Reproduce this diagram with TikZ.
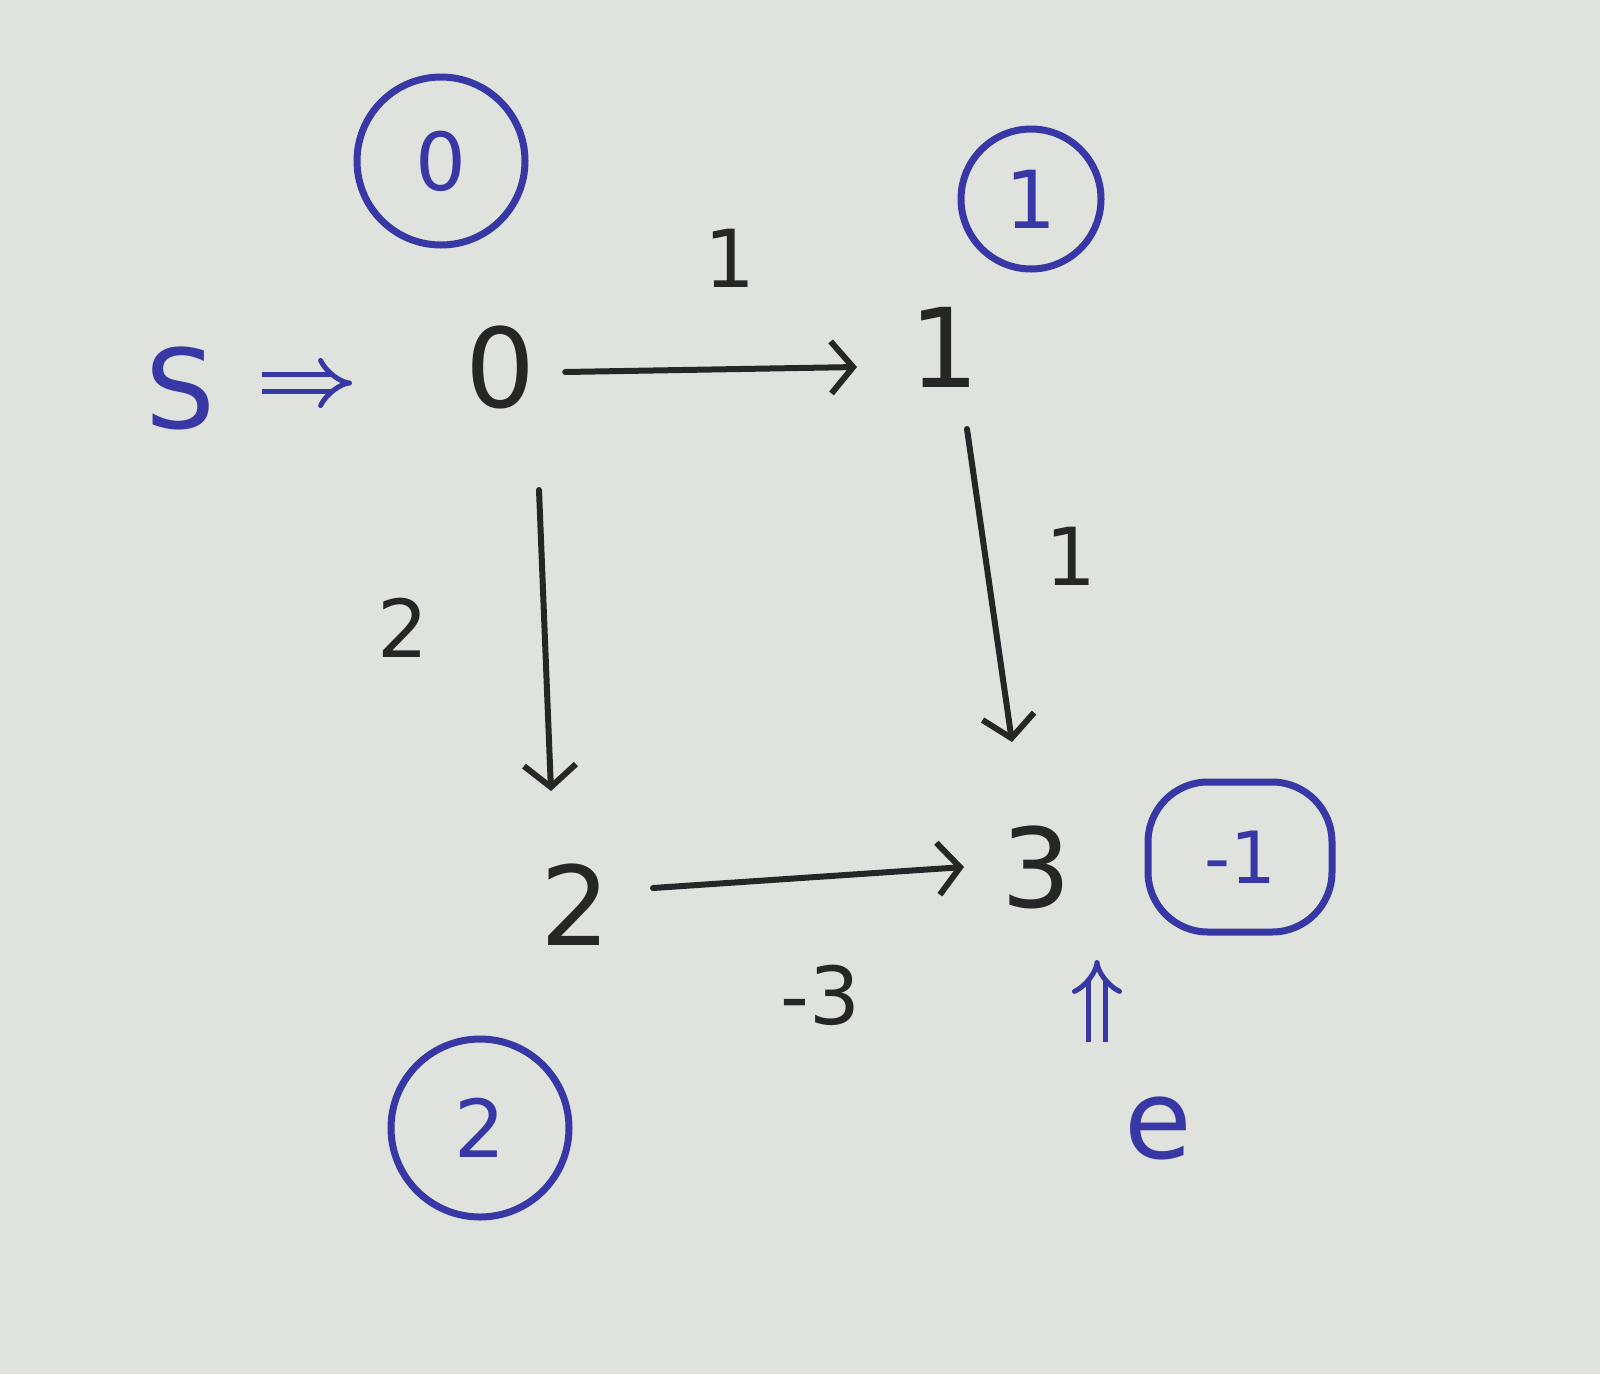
\documentclass[tikz,border=0pt]{standalone}
\usepackage{fontspec}
\setmainfont{DejaVu Sans}
\usetikzlibrary{arrows.meta}
\definecolor{paper}{RGB}{224,227,221}
\definecolor{inkblack}{RGB}{38,38,38}
\definecolor{inkblue}{RGB}{55,55,165}
\tikzset{
  vert/.style={text=inkblack, font=\fontsize{110}{110}\selectfont, inner sep=0pt},
  elabel/.style={text=inkblack, font=\fontsize{80}{80}\selectfont, inner sep=0pt},
  edge/.style={draw=inkblack, line width=6pt, line cap=round, -{Straight Barb[length=22pt,width=52pt,line width=6pt]}},
  bluecirc/.style={draw=inkblue, text=inkblue, line width=7pt, circle, font=\fontsize{80}{80}\selectfont, inner sep=0pt},
  bluebox/.style={draw=inkblue, text=inkblue, line width=7pt, rounded corners=60pt, font=\fontsize{72}{72}\selectfont, inner sep=0pt, minimum width=184pt, minimum height=150pt},
  bluetext/.style={text=inkblue, font=\fontsize{110}{110}\selectfont, inner sep=0pt},
  dbl/.style={draw=inkblue, line width=5pt, double=paper, double distance=12pt, -{Implies}},
}
\begin{document}
\begin{tikzpicture}[x=1pt,y=-1pt]
\fill[paper] (0,0) rectangle (1600,1374);
\useasboundingbox (0,0) rectangle (1600,1374);
% vertices
\node[vert] (v0) at (500,367) {0};
\node[vert] (v1) at (944,347) {1};
\node[vert] (v2) at (575,905) {2};
\node[vert] (v3) at (1036,867) {3};
% edges
\draw[edge] (v0.east) ++(30,5) coordinate (a0) -- (857,367) coordinate (a1);
\draw[edge] (v0) ++(39,123) coordinate (b0) -- (551,791) coordinate (b1);
\draw[edge] (v1) ++(23,82) coordinate (c0) -- (1012,742) coordinate (c1);
\draw[edge] (v2) ++(78,-17) coordinate (d0) -- (964,867) coordinate (d1);
% edge labels
\node[elabel] (l01) at (730,258) {1};
\node[elabel] (l02) at (403,628) {2};
\node[elabel] (l13) at (1071,556) {1};
\node[elabel] (l23) at (820,995) {-3};
% blue distance circles
\node[bluecirc, minimum size=168pt] (d0c) at (441,161) {0};
\node[bluecirc, minimum size=140pt] (d1c) at (1031,199) {1};
\node[bluecirc, minimum size=178pt] (d2c) at (480,1128) {2};
\node[bluebox] (d3c) at (1240,857) {-1};
% start and end
\node[bluetext] (s) at (180,388) {S};
\node[bluetext] (e) at (1158,1128) {e};
\coordinate (sa) at (262,383);
\coordinate (sb) at (352,383);
\coordinate (ea) at (1097,1042);
\coordinate (eb) at (1097,960);
\draw[dbl] (sa) -- (sb);
\draw[dbl] (ea) -- (eb);
\end{tikzpicture}
\end{document}
